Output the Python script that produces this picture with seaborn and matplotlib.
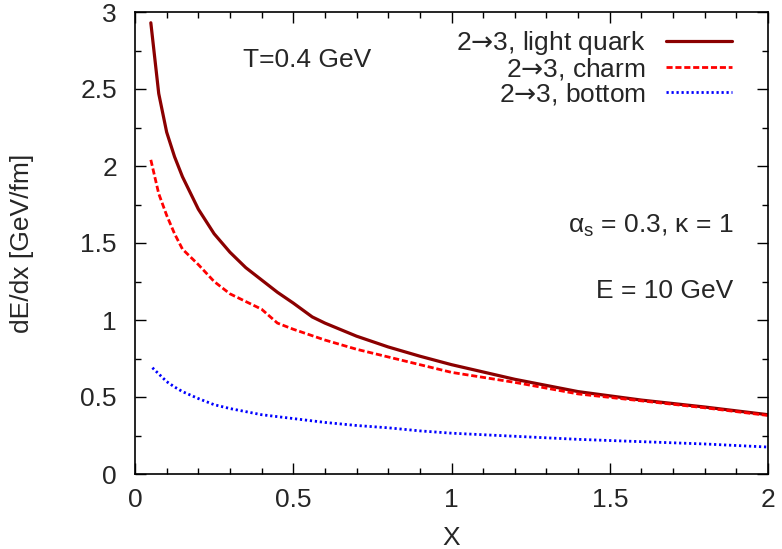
import numpy as np
import pandas as pd
import matplotlib
matplotlib.use("Agg")
import matplotlib.pyplot as plt
import seaborn as sns
from matplotlib.ticker import MultipleLocator

# ---- data ----
x_light = [0.05, 0.075, 0.1, 0.125, 0.15, 0.2, 0.25, 0.3, 0.35, 0.4, 0.45, 0.5, 0.56, 0.6, 0.7, 0.8, 0.9, 1.0, 1.2, 1.4, 1.6, 1.8, 2.0]
y_light = [2.93, 2.47, 2.22, 2.06, 1.93, 1.72, 1.56, 1.44, 1.34, 1.26, 1.18, 1.11, 1.02, 0.98, 0.895, 0.825, 0.765, 0.71, 0.615, 0.535, 0.48, 0.435, 0.385]

x_charm = [0.05, 0.075, 0.1, 0.125, 0.15, 0.2, 0.25, 0.3, 0.35, 0.4, 0.45, 0.5, 0.6, 0.7, 0.8, 0.9, 1.0, 1.2, 1.4, 1.6, 1.8, 2.0]
y_charm = [2.04, 1.82, 1.68, 1.56, 1.46, 1.36, 1.25, 1.17, 1.12, 1.07, 0.98, 0.94, 0.87, 0.81, 0.76, 0.71, 0.66, 0.595, 0.52, 0.475, 0.43, 0.38]

x_bottom = [0.055, 0.075, 0.1, 0.125, 0.15, 0.2, 0.25, 0.3, 0.4, 0.5, 0.6, 0.7, 0.8, 0.9, 1.0, 1.2, 1.4, 1.6, 1.8, 2.0]
y_bottom = [0.69, 0.65, 0.60, 0.565, 0.535, 0.49, 0.45, 0.425, 0.385, 0.36, 0.335, 0.315, 0.30, 0.28, 0.265, 0.245, 0.225, 0.21, 0.195, 0.175]

labels = ["2$\\mathsf{\u2192}$3, light quark", "2$\\mathsf{\u2192}$3, charm", "2$\\mathsf{\u2192}$3, bottom"]

sns.set_style("ticks")
plt.rcParams['font.family'] = ['Liberation Sans', 'DejaVu Sans']
plt.rcParams['mathtext.fontset'] = 'custom'
plt.rcParams['mathtext.rm'] = 'Liberation Sans'
plt.rcParams['mathtext.it'] = 'Liberation Sans'
plt.rcParams['mathtext.sf'] = 'DejaVu Sans'

fs = 19
fig = plt.figure(figsize=(7.82, 5.49), dpi=100)
ax = fig.add_axes([135/782, 1-474/549, (768-135)/782, (474-12)/549])

sns.lineplot(x=x_light, y=y_light, ax=ax, color="#8b0000", lw=2.3, label=labels[0])
sns.lineplot(x=x_charm, y=y_charm, ax=ax, color="#ff0000", lw=2.0, dashes=(2.2, 1.0), label=labels[1])
sns.lineplot(x=x_bottom, y=y_bottom, ax=ax, color="#0000ff", lw=2.0, dashes=(0.8, 1.0), label=labels[2])

ax.set_xlim(0, 2)
ax.set_ylim(0, 3)
ax.xaxis.set_major_locator(MultipleLocator(0.5))
ax.xaxis.set_minor_locator(MultipleLocator(0.1))
ax.yaxis.set_major_locator(MultipleLocator(0.5))
ax.yaxis.set_minor_locator(MultipleLocator(0.25))
ax.xaxis.set_major_formatter(plt.FuncFormatter(lambda v, p: f"{v:g}"))
ax.yaxis.set_major_formatter(plt.FuncFormatter(lambda v, p: f"{v:g}"))
ax.tick_params(which='both', direction='in', top=True, right=True, labelsize=fs, color='black', width=1)
ax.tick_params(which='major', length=8)
ax.tick_params(axis='x', which='major', pad=10)
ax.tick_params(axis='y', which='major', pad=13)
ax.tick_params(which='minor', length=4)
for s in ax.spines.values():
    s.set_linewidth(1.2)
    s.set_color('black')

ax.set_xlabel("X", fontsize=fs, labelpad=10)
ax.set_ylabel("dE/dx [GeV/fm]", fontsize=fs, labelpad=33)

ax.text(0.34, 2.69, "T=0.4 GeV", fontsize=fs, ha='left', va='center')
ax.text(1.89, 1.61, "$\\mathrm{\u03b1}_\\mathrm{s}$ = 0.3, \u03ba = 1", fontsize=fs, ha='right', va='center')
ax.text(1.89, 1.19, "E = 10 GeV", fontsize=fs, ha='right', va='center')

leg = ax.legend(loc='upper right', bbox_to_anchor=(0.97, 1.0), frameon=False, markerfirst=False,
                fontsize=fs, handlelength=2.5, handletextpad=0.75, labelspacing=-0.05,
                borderaxespad=0.25)
for col in leg._legend_handle_box.get_children():
    col.align = "right"

fig.savefig("out.png", dpi=100)
